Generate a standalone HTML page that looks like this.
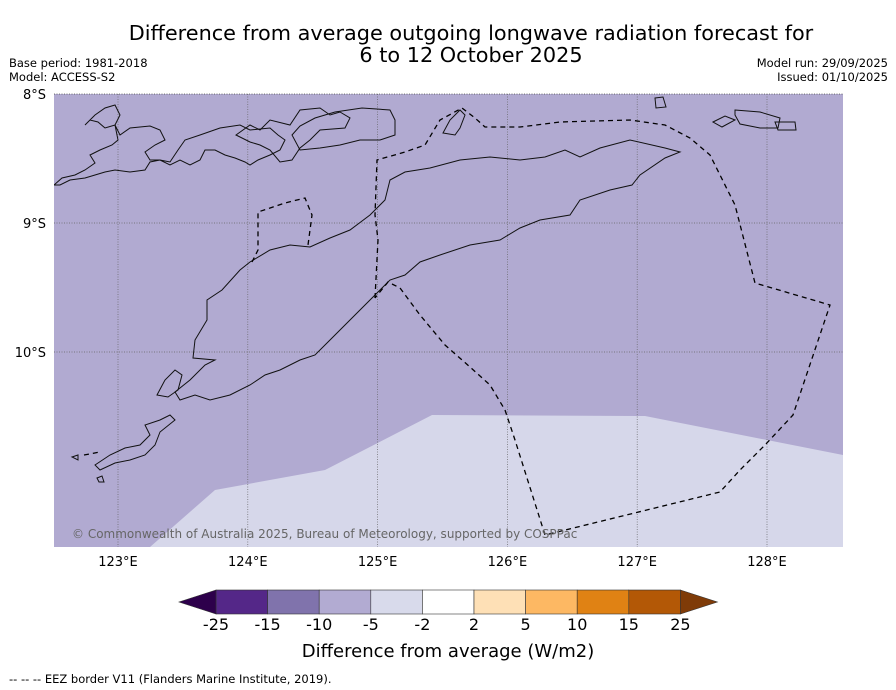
<!DOCTYPE html>
<html><head><meta charset="utf-8"><style>
body{margin:0;background:#fff;width:896px;height:690px;overflow:hidden;font-family:"Liberation Sans","DejaVu Sans",sans-serif}
svg{position:absolute;left:0;top:0}
</style></head><body>
<svg width="896" height="690" font-family="DejaVu Sans, Liberation Sans, sans-serif">
<text x="471" y="40" font-size="20.8" text-anchor="middle">Difference from average outgoing longwave radiation forecast for</text>
<text x="471" y="62" font-size="20.8" text-anchor="middle">6 to 12 October 2025</text>
<text x="9" y="67" font-size="11.5">Base period: 1981-2018</text>
<text x="9" y="81" font-size="11.5">Model: ACCESS-S2</text>
<text x="888" y="67" font-size="11.5" text-anchor="end">Model run: 29/09/2025</text>
<text x="888" y="81" font-size="11.5" text-anchor="end">Issued: 01/10/2025</text>
<defs><clipPath id="mc"><rect x="54" y="94" width="789" height="453"/></clipPath></defs>
<g clip-path="url(#mc)">
<rect x="54" y="94" width="789" height="453" fill="#b1aad1"/>
<polygon points="150,547 215,490 325,470 432,415 645,416 843,455 843,547" fill="#d6d7ea"/>
<g id="grid" stroke="#666" stroke-width="0.7" stroke-dasharray="1,1.5"></g>
<g fill="none" stroke="#111" stroke-width="1">
<path d="M193,358 L195,340 207,320 207,300 222,290 240,270 250,262 270,250 290,245 310,247 330,238 350,230 370,215 385,200 390,180 405,172 430,168 460,160 490,157 520,160 545,157 565,150 580,157 600,148 630,140 665,148 680,152 665,158 640,175 632,185 610,190 580,200 570,215 540,220 520,228 500,240 470,245 440,255 420,262 405,275 390,280 375,295 360,310 345,325 330,340 315,355 300,360 280,370 265,375 250,385 230,395 210,400 195,395 180,400 175,392 190,380 205,365 215,360 Z"/>
<path d="M54,185 L62,178 75,175 85,170 95,163 90,155 100,150 112,145 118,140 115,125 105,128 98,122 90,120 85,125 95,115 105,108 115,105 120,115 115,125 120,135 130,128 150,126 160,130 165,140 155,145 145,152 150,160 160,160 170,162 178,150 185,140 200,135 220,128 240,125 250,130 270,128 278,135 285,140 280,150 270,155 258,160 250,165 245,162 235,158 225,155 215,150 205,150 200,160 190,165 180,160 170,165 160,160 150,162 145,170 130,172 115,170 105,172 95,175 85,178 70,180 60,185 Z"/>
<path d="M236,135 L250,125 260,130 270,120 290,125 300,110 320,108 330,115 340,112 350,118 345,128 320,130 310,140 300,148 292,160 280,162 270,150 260,145 250,142 Z"/>
<path d="M292,135 L300,126 315,118 335,112 362,108 390,110 395,120 395,135 380,140 360,140 340,145 320,148 300,150 Z"/>
<path d="M735,110 L760,112 780,118 778,128 760,128 740,124 735,115 Z"/>
<path d="M713,122 L725,116 735,120 722,127 Z"/>
<path d="M775,122 L795,122 796,130 778,130 Z"/>
<path d="M655,98 L663,97 666,107 656,108 Z"/>
<path d="M443,133 L450,120 460,110 465,115 460,128 455,135 Z"/>
<path d="M157,395 L165,380 175,370 182,375 178,390 168,397 Z"/>
<path d="M95,465 L110,455 125,448 140,445 150,435 145,425 160,420 170,415 175,420 160,432 155,445 145,455 130,460 115,463 100,470 Z"/>
<path d="M72,457 L78,455 78,460 Z"/>
<path d="M97,478 L102,476 104,482 99,482 Z"/>
</g>
<g fill="none" stroke="#000" stroke-width="1.3" stroke-dasharray="5,4">
<path d="M252,262 L258,250 258,212 285,203 305,198 312,215 308,245"/>
<path d="M375,298 L378,240 375,215 377,160 405,152 425,145 440,120 462,108 475,118 485,127 520,127 560,122 630,120 665,125 690,138 710,155 735,205 755,283 830,305 793,415 765,445 740,470 720,492 545,535 515,440 505,410 490,385 470,367 445,345 420,315 400,288 388,282 375,298"/>
<path d="M84,455 L100,452"/>
</g>
<text x="72" y="538" font-size="12" fill="#666">© Commonwealth of Australia 2025, Bureau of Meteorology, supported by COSPPac</text>
</g>
<line x1="54" y1="94" x2="843" y2="94" stroke="#555" stroke-width="0.7" stroke-dasharray="1,1.5"/>
<g id="ticks" font-size="13"></g>
<g id="cbar"></g>
<text x="448" y="657" font-size="18" text-anchor="middle">Difference from average (W/m2)</text>
<text x="9" y="683" font-size="11.5">--  --  -- EEZ border V11 (Flanders Marine Institute, 2019).</text>
</svg>
<script>
const lonTicks=[123,124,125,126,127,128];
const latTicks=[8,9,10];
const cbLevels=[-25,-15,-10,-5,-2,2,5,10,15,25];
const cbColors=['#542788','#8073ac','#b2abd2','#d8daeb','#ffffff','#fee0b6','#fdb863','#e08214','#b35806'];
const cbExt=['#2d004b','#7f3b08'];
const NS='http://www.w3.org/2000/svg';
const xLon=l=>118+(l-123)*129.8, yLat=l=>94+(l-8)*129;
function mk(t,a,p){const e=document.createElementNS(NS,t);for(const k in a)e.setAttribute(k,a[k]);p.appendChild(e);return e;}
const grid=document.getElementById('grid'),ticks=document.getElementById('ticks');
lonTicks.forEach(l=>{const g=mk('line',{x1:xLon(l),x2:xLon(l),y1:94,y2:547},grid);


const t=mk('text',{x:xLon(l),y:566,'text-anchor':'middle'},ticks);t.textContent=l+'°E';

});
latTicks.forEach(l=>{const g=mk('line',{x1:54,x2:843,y1:yLat(l),y2:yLat(l)},grid);


const t=mk('text',{x:46,y:yLat(l)+5,'text-anchor':'end'},ticks);t.textContent=l+'°S';

});
const cb=document.getElementById('cbar');const x0=216,w=51.6,y0=590,h=24;
cbColors.forEach((c,i)=>{const r=mk('rect',{x:x0+i*w,y:y0,width:w,height:h,fill:c,stroke:'#333','stroke-width':0.6},cb);

});
const xe=x0+cbColors.length*w;
const l=mk('polygon',{points:`${x0},${y0} ${x0},${y0+h} 179,${y0+h/2}`,fill:cbExt[0],stroke:'#333','stroke-width':0.6},cb);


const r=mk('polygon',{points:`${xe},${y0} ${xe},${y0+h} ${xe+37},${y0+h/2}`,fill:cbExt[1],stroke:'#333','stroke-width':0.6},cb);


cbLevels.forEach((v,i)=>{const t=mk('text',{x:x0+i*w,y:630,'text-anchor':'middle','font-size':16},cb);t.textContent=v;

});
</script>
</body></html>
